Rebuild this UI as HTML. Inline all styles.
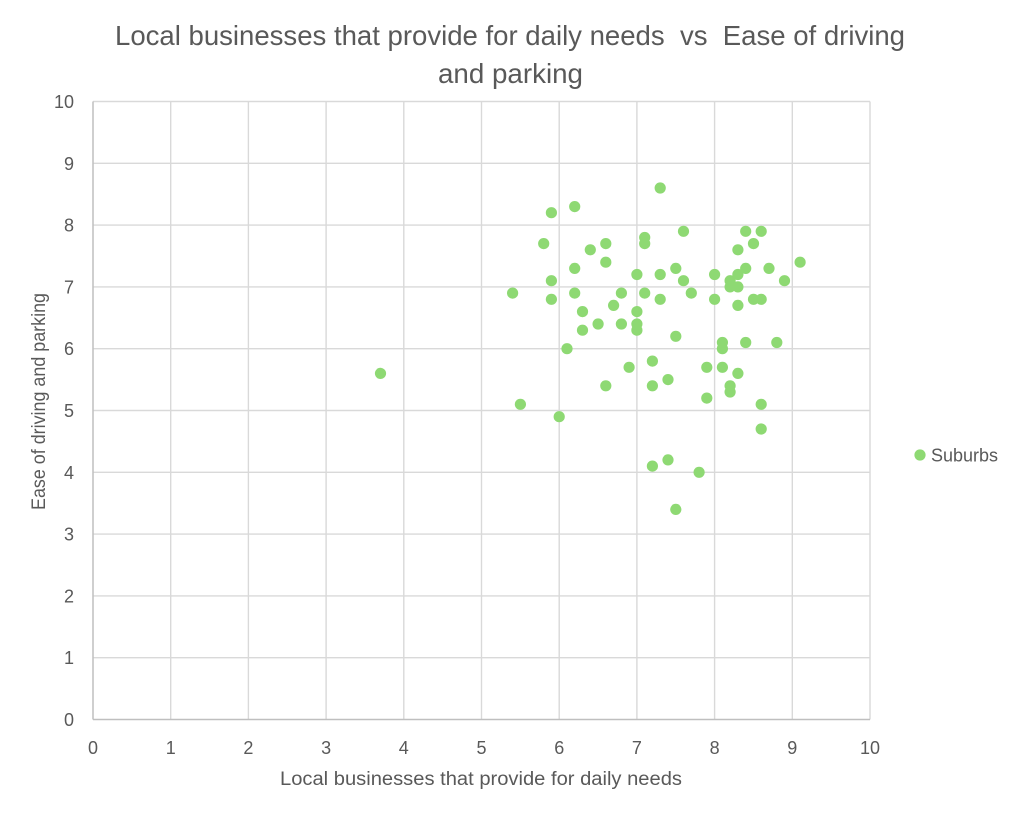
<!DOCTYPE html>
<html>
<head>
<meta charset="utf-8">
<style>
html,body{margin:0;padding:0;background:#fff;}
svg{display:block;}
text{font-family:"Liberation Sans",sans-serif;fill:#595959;}
.pre{white-space:pre;}
</style>
</head>
<body>
<svg width="1024" height="814" viewBox="0 0 1024 814" xmlns="http://www.w3.org/2000/svg">
<rect width="1024" height="814" fill="#fff"/>
<text class="pre" xml:space="preserve" x="115" y="45" font-size="28" textLength="790" lengthAdjust="spacingAndGlyphs">Local businesses that provide for daily needs  vs  Ease of driving</text>
<text x="438" y="83" font-size="28" textLength="145" lengthAdjust="spacingAndGlyphs">and parking</text>
<g stroke="#d9d9d9" stroke-width="1.4" fill="none">
<line x1="93" y1="101.5" x2="870" y2="101.5"/>
<line x1="93" y1="163.3" x2="870" y2="163.3"/>
<line x1="93" y1="225.1" x2="870" y2="225.1"/>
<line x1="93" y1="286.9" x2="870" y2="286.9"/>
<line x1="93" y1="348.7" x2="870" y2="348.7"/>
<line x1="93" y1="410.5" x2="870" y2="410.5"/>
<line x1="93" y1="472.3" x2="870" y2="472.3"/>
<line x1="93" y1="534.1" x2="870" y2="534.1"/>
<line x1="93" y1="595.9" x2="870" y2="595.9"/>
<line x1="93" y1="657.7" x2="870" y2="657.7"/>
<line x1="170.7" y1="101.5" x2="170.7" y2="719.5"/>
<line x1="248.4" y1="101.5" x2="248.4" y2="719.5"/>
<line x1="326.1" y1="101.5" x2="326.1" y2="719.5"/>
<line x1="403.8" y1="101.5" x2="403.8" y2="719.5"/>
<line x1="481.5" y1="101.5" x2="481.5" y2="719.5"/>
<line x1="559.2" y1="101.5" x2="559.2" y2="719.5"/>
<line x1="636.9" y1="101.5" x2="636.9" y2="719.5"/>
<line x1="714.6" y1="101.5" x2="714.6" y2="719.5"/>
<line x1="792.3" y1="101.5" x2="792.3" y2="719.5"/>
<line x1="870" y1="101.5" x2="870" y2="719.5"/>
</g>
<g stroke="#bfbfbf" stroke-width="1.5">
<line x1="93" y1="101.5" x2="93" y2="719.5"/>
<line x1="93" y1="719.5" x2="870" y2="719.5"/>
</g>
<g font-size="18" text-anchor="end">
<text x="74" y="726">0</text>
<text x="74" y="664.2">1</text>
<text x="74" y="602.4">2</text>
<text x="74" y="540.6">3</text>
<text x="74" y="478.8">4</text>
<text x="74" y="417">5</text>
<text x="74" y="355.2">6</text>
<text x="74" y="293.4">7</text>
<text x="74" y="231.6">8</text>
<text x="74" y="169.8">9</text>
<text x="74" y="108">10</text>
</g>
<g font-size="18" text-anchor="middle">
<text x="93" y="754">0</text>
<text x="170.7" y="754">1</text>
<text x="248.4" y="754">2</text>
<text x="326.1" y="754">3</text>
<text x="403.8" y="754">4</text>
<text x="481.5" y="754">5</text>
<text x="559.2" y="754">6</text>
<text x="636.9" y="754">7</text>
<text x="714.6" y="754">8</text>
<text x="792.3" y="754">9</text>
<text x="870" y="754">10</text>
</g>
<text x="280" y="785" font-size="19" textLength="402" lengthAdjust="spacingAndGlyphs">Local businesses that provide for daily needs</text>
<text transform="translate(45,510) rotate(-90)" x="0" y="0" font-size="19" textLength="217" lengthAdjust="spacingAndGlyphs">Ease of driving and parking</text>
<g fill="#8ed973">
<circle cx="380.5" cy="373.4" r="5.6"/>
<circle cx="512.6" cy="293.1" r="5.6"/>
<circle cx="520.4" cy="404.3" r="5.6"/>
<circle cx="543.7" cy="243.6" r="5.6"/>
<circle cx="551.4" cy="212.7" r="5.6"/>
<circle cx="551.4" cy="280.7" r="5.6"/>
<circle cx="551.4" cy="299.3" r="5.6"/>
<circle cx="559.2" cy="416.7" r="5.6"/>
<circle cx="567.0" cy="348.7" r="5.6"/>
<circle cx="574.7" cy="206.6" r="5.6"/>
<circle cx="574.7" cy="268.4" r="5.6"/>
<circle cx="574.7" cy="293.1" r="5.6"/>
<circle cx="582.5" cy="311.6" r="5.6"/>
<circle cx="582.5" cy="330.2" r="5.6"/>
<circle cx="590.3" cy="249.8" r="5.6"/>
<circle cx="598.1" cy="324.0" r="5.6"/>
<circle cx="605.8" cy="243.6" r="5.6"/>
<circle cx="605.8" cy="262.2" r="5.6"/>
<circle cx="605.8" cy="385.8" r="5.6"/>
<circle cx="613.6" cy="305.4" r="5.6"/>
<circle cx="621.4" cy="293.1" r="5.6"/>
<circle cx="621.4" cy="324.0" r="5.6"/>
<circle cx="629.1" cy="367.3" r="5.6"/>
<circle cx="636.9" cy="274.5" r="5.6"/>
<circle cx="636.9" cy="311.6" r="5.6"/>
<circle cx="636.9" cy="324.0" r="5.6"/>
<circle cx="636.9" cy="330.2" r="5.6"/>
<circle cx="644.7" cy="237.5" r="5.6"/>
<circle cx="644.7" cy="243.6" r="5.6"/>
<circle cx="644.7" cy="293.1" r="5.6"/>
<circle cx="652.4" cy="361.1" r="5.6"/>
<circle cx="652.4" cy="385.8" r="5.6"/>
<circle cx="652.4" cy="466.1" r="5.6"/>
<circle cx="660.2" cy="188.0" r="5.6"/>
<circle cx="660.2" cy="274.5" r="5.6"/>
<circle cx="660.2" cy="299.3" r="5.6"/>
<circle cx="668.0" cy="379.6" r="5.6"/>
<circle cx="668.0" cy="459.9" r="5.6"/>
<circle cx="675.8" cy="268.4" r="5.6"/>
<circle cx="675.8" cy="336.3" r="5.6"/>
<circle cx="675.8" cy="509.4" r="5.6"/>
<circle cx="683.5" cy="231.3" r="5.6"/>
<circle cx="683.5" cy="280.7" r="5.6"/>
<circle cx="691.3" cy="293.1" r="5.6"/>
<circle cx="699.1" cy="472.3" r="5.6"/>
<circle cx="706.8" cy="367.3" r="5.6"/>
<circle cx="706.8" cy="398.1" r="5.6"/>
<circle cx="714.6" cy="274.5" r="5.6"/>
<circle cx="714.6" cy="299.3" r="5.6"/>
<circle cx="722.4" cy="342.5" r="5.6"/>
<circle cx="722.4" cy="348.7" r="5.6"/>
<circle cx="722.4" cy="367.3" r="5.6"/>
<circle cx="730.1" cy="280.7" r="5.6"/>
<circle cx="730.1" cy="286.9" r="5.6"/>
<circle cx="730.1" cy="385.8" r="5.6"/>
<circle cx="730.1" cy="392.0" r="5.6"/>
<circle cx="737.9" cy="249.8" r="5.6"/>
<circle cx="737.9" cy="274.5" r="5.6"/>
<circle cx="737.9" cy="286.9" r="5.6"/>
<circle cx="737.9" cy="305.4" r="5.6"/>
<circle cx="737.9" cy="373.4" r="5.6"/>
<circle cx="745.7" cy="231.3" r="5.6"/>
<circle cx="745.7" cy="268.4" r="5.6"/>
<circle cx="745.7" cy="342.5" r="5.6"/>
<circle cx="753.5" cy="243.6" r="5.6"/>
<circle cx="753.5" cy="299.3" r="5.6"/>
<circle cx="761.2" cy="231.3" r="5.6"/>
<circle cx="761.2" cy="299.3" r="5.6"/>
<circle cx="761.2" cy="404.3" r="5.6"/>
<circle cx="761.2" cy="429.0" r="5.6"/>
<circle cx="769.0" cy="268.4" r="5.6"/>
<circle cx="776.8" cy="342.5" r="5.6"/>
<circle cx="784.5" cy="280.7" r="5.6"/>
<circle cx="800.1" cy="262.2" r="5.6"/>
</g>
<circle cx="920" cy="455" r="5.6" fill="#8ed973"/>
<text x="931" y="461.5" font-size="18" textLength="67" lengthAdjust="spacingAndGlyphs">Suburbs</text>
</svg>
</body>
</html>
